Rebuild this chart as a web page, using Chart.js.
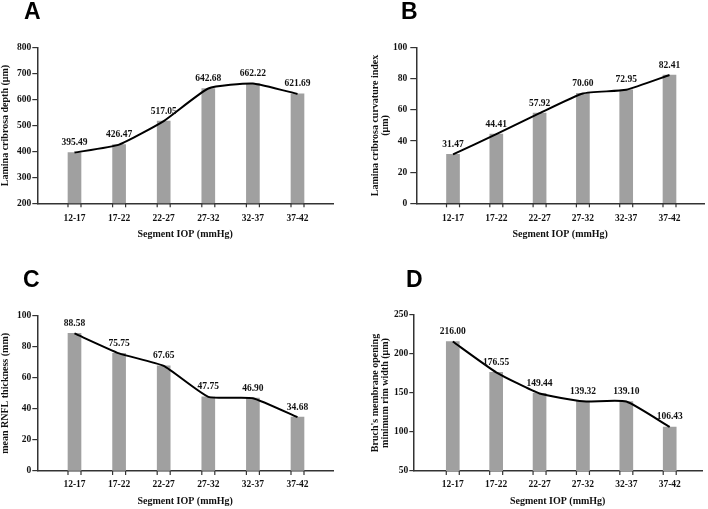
<!DOCTYPE html>
<html>
<head>
<meta charset="utf-8">
<script src="https://cdn.jsdelivr.net/npm/chart.js@4.4.0/dist/chart.umd.min.js"></script>
<style>
  body { margin: 0; background: #fff; }
  #wrap { position: relative; width: 708px; height: 509px; overflow: hidden; }
  canvas { position: absolute; }
  .letter { position: absolute; font: bold 23px "Liberation Sans", Arial, sans-serif; line-height: 23px; color: #000; }
</style>
</head>
<body>
<div id="wrap">
  <canvas id="chartA" width="354" height="255" style="left:0;top:0"></canvas>
  <canvas id="chartB" width="354" height="255" style="left:354px;top:0"></canvas>
  <canvas id="chartC" width="354" height="254" style="left:0;top:255px"></canvas>
  <canvas id="chartD" width="354" height="254" style="left:354px;top:255px"></canvas>
  <div class="letter" style="left:24px;top:0">A</div>
  <div class="letter" style="left:401px;top:0">B</div>
  <div class="letter" style="left:23px;top:268px">C</div>
  <div class="letter" style="left:406px;top:268px">D</div>
</div>
<script>
const categories = ['12-17', '17-22', '22-27', '27-32', '32-37', '37-42'];
const depthValues = [395.49, 426.47, 517.05, 642.68, 662.22, 621.69];
const curvatureValues = [31.47, 44.41, 57.92, 70.60, 72.95, 82.41];
const rnflValues = [88.58, 75.75, 67.65, 47.75, 46.90, 34.68];
const bmoValues = [216.00, 176.55, 149.44, 139.32, 139.10, 106.43];

const serif = 'Liberation Serif, Times New Roman, serif';
const axisColor = '#333';
const textColor = '#111';

// value labels over the line + small tick marks at both edges of every bar
const panelMarks = {
    id: 'panelMarks',
    afterDatasetsDraw(chart) {
        const ctx = chart.ctx;
        const bottom = chart.chartArea.bottom;
        const barMeta = chart.getDatasetMeta(1);
        ctx.save();
        ctx.strokeStyle = axisColor;
        ctx.lineWidth = 1.2;
        barMeta.data.forEach(bar => {
            [bar.x - bar.width / 2, bar.x + bar.width / 2].forEach(x => {
                ctx.beginPath();
                ctx.moveTo(x, bottom);
                ctx.lineTo(x, bottom + 4);
                ctx.stroke();
            });
        });
        const lineMeta = chart.getDatasetMeta(0);
        const vals = chart.data.datasets[0].data;
        ctx.fillStyle = textColor;
        ctx.font = 'bold 9.5px ' + serif;
        ctx.textAlign = 'center';
        ctx.textBaseline = 'middle';
        lineMeta.data.forEach((pt, i) => {
            ctx.fillText(vals[i].y.toFixed(2), pt.x, pt.y - 10);
        });
        ctx.restore();
    }
};

function makePanel(id, values, p) {
    const points = values.map((v, i) => ({ x: i, y: v }));
    const canvas = document.getElementById(id);
    new Chart(canvas.getContext('2d'), {
        type: 'bar',
        data: {
            datasets: [
                {
                    type: 'line',
                    data: points,
                    borderColor: '#000',
                    borderWidth: 2,
                    pointRadius: 0,
                    tension: 0.15,
                    order: 0
                },
                {
                    type: 'bar',
                    data: points,
                    backgroundColor: '#a0a0a0',
                    barThickness: 13,
                    order: 1
                }
            ]
        },
        options: {
            responsive: false,
            animation: false,
            devicePixelRatio: 1,
            layout: { padding: { left: 0, top: p.plotTop, right: canvas.width - p.plotRight, bottom: 0 } },
            plugins: { legend: { display: false }, tooltip: { enabled: false } },
            scales: {
                x: {
                    type: 'linear',
                    offset: false,
                    min: p.xMin,
                    max: p.xMax,
                    afterBuildTicks: s => { s.ticks = categories.map((c, i) => ({ value: i })); },
                    afterFit: s => { s.height = canvas.height - p.plotBottom; },
                    ticks: {
                        callback: v => categories[v],
                        autoSkip: false,
                        maxRotation: 0,
                        padding: p.xTickPad,
                        color: textColor,
                        font: { family: serif, size: 9.5, weight: 'bold' }
                    },
                    grid: { display: false, drawTicks: false, offset: false },
                    border: { color: axisColor, width: 1.5 },
                    title: {
                        display: true,
                        text: 'Segment IOP (mmHg)',
                        color: textColor,
                        font: { family: serif, size: 10, weight: 'bold', lineHeight: 1.2 },
                        padding: { top: 0, bottom: p.xTitlePad }
                    }
                },
                y: {
                    min: p.yMin,
                    max: p.yMax,
                    afterFit: s => { s.width = p.plotLeft; },
                    ticks: {
                        stepSize: p.yStep,
                        padding: p.yPad,
                        color: textColor,
                        font: { family: serif, size: 9.5, weight: 'bold' }
                    },
                    grid: { drawOnChartArea: false, tickLength: p.yTick, color: axisColor, lineWidth: 1.2 },
                    border: { color: axisColor, width: 1.5 },
                    title: {
                        display: true,
                        text: p.yTitle,
                        color: textColor,
                        font: { family: serif, size: 10, weight: 'bold', lineHeight: p.titleLH },
                        padding: { top: p.titlePad, bottom: 0 }
                    }
                }
            }
        },
        plugins: [panelMarks]
    });
}

makePanel('chartA', depthValues, {
    yMin: 200, yMax: 800, yStep: 100, yTitle: 'Lamina cribrosa depth (μm)',
    plotLeft: 37.3, plotTop: 47.7, plotRight: 333, plotBottom: 203.3,
    xMin: -0.834, xMax: 5.796, yTick: 5, yPad: 1, titlePad: 0, titleLH: 1.1,
    xTickPad: 9.3, xTitlePad: 14.7
});
makePanel('chartB', curvatureValues, {
    yMin: 0, yMax: 100, yStep: 20, yTitle: ['Lamina cribrosa curvature index', '(μm)'],
    plotLeft: 62.3, plotTop: 47.7, plotRight: 350, plotBottom: 203.3,
    xMin: -0.848, xMax: 5.797, yTick: 6, yPad: 3, titlePad: 16.7, titleLH: 1.0,
    xTickPad: 9.3, xTitlePad: 14.7
});
makePanel('chartC', rnflValues, {
    yMin: 0, yMax: 100, yStep: 20, yTitle: 'mean RNFL thickness (mm)',
    plotLeft: 37.3, plotTop: 60.7, plotRight: 333, plotBottom: 216,
    xMin: -0.834, xMax: 5.796, yTick: 5, yPad: 1, titlePad: 0, titleLH: 1.1,
    xTickPad: 8.3, xTitlePad: 1.3
});
makePanel('chartD', bmoValues, {
    yMin: 50, yMax: 250, yStep: 50, yTitle: ["Bruch's membrane opening", 'minimum rim width (μm)'],
    plotLeft: 59.3, plotTop: 60, plotRight: 348, plotBottom: 216,
    xMin: -0.91, xMax: 5.744, yTick: 4, yPad: 1, titlePad: 16.7, titleLH: 1.0,
    xTickPad: 8.3, xTitlePad: 1.3
});
</script>
</body>
</html>
